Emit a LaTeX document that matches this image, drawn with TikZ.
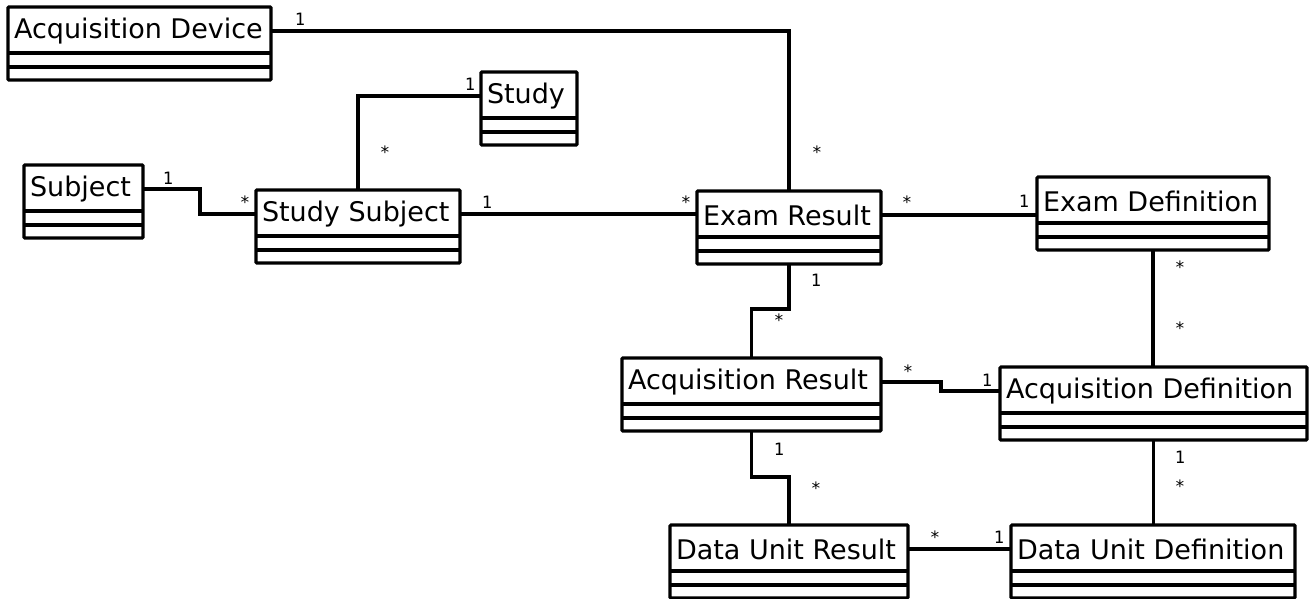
\documentclass[tikz,border=0pt]{standalone}
\usepackage{fontspec}
\setmainfont{DejaVu Sans}
\newfontfamily\labfont{DejaVu Sans Mono}
\usetikzlibrary{calc}
\tikzset{
  cbox/.style={draw, line width=3.2pt, inner sep=0pt, outer sep=0pt, anchor=north west, rounded corners=1pt},
  ctitle/.style={inner sep=0pt, outer sep=0pt, anchor=west, font=\fontsize{27}{30}\selectfont},
  cline/.style={line width=3.2pt},
  conn/.style={line width=3.2pt},
  mult/.style={inner sep=0pt, font=\labfont\fontsize{17}{19}\selectfont}
}
\newcommand\umlcls[5]{%
  \node[cbox, minimum width=#4pt, minimum height=73pt] (#1) at (#2,#3) {};
  \node[ctitle] (#1-t) at ($(#1.north west)+(6,24)$) {#5};
  \draw[cline] ($(#1.north west)+(0,46)$) -- ($(#1.north east)+(0,46)$);
  \draw[cline] ($(#1.north west)+(0,60)$) -- ($(#1.north east)+(0,60)$);
}
\begin{document}
\begin{tikzpicture}[x=1pt,y=-1pt]
\useasboundingbox[fill=white] (0,0) rectangle (1311,599);
\umlcls{ad}{8}{7}{263}{Acquisition Device}
\umlcls{study}{481}{72}{96}{Study}
\umlcls{subj}{24}{165}{119}{Subject}
\umlcls{ss}{256}{190}{204}{Study Subject}
\umlcls{er}{697}{191}{184}{Exam Result}
\umlcls{ed}{1037}{177}{232}{Exam Definition}
\umlcls{ar}{622}{358}{259}{Acquisition Result}
\umlcls{adf}{1000}{367}{307}{Acquisition Definition}
\umlcls{dur}{670}{525}{238}{Data Unit Result}
\umlcls{dud}{1011}{525}{284}{Data Unit Definition}
\coordinate (j3) at (200,0);
\coordinate (j6) at (0,309);
\coordinate (j8) at (941,0);
\coordinate (j9) at (0,477);
% connectors
\draw[conn] (ad.east |- ad-t.west) -| (er.north);
\draw[conn] (study.west |- study-t.west) -| (ss.north);
\draw[conn] (subj.east |- subj-t.west) -- (j3 |- subj-t.west) |- (ss.west |- ss-t.west);
\draw[conn] (ss.east |- ss-t.west) -- (er.west |- ss-t.west);
\draw[conn] (er.east |- er-t.west) -- (ed.west |- er-t.west);
\draw[conn] (er.south) -- (er.south |- j6) -| (ar.north);
\draw[conn] (ed.south) -- (ed.south |- adf.north);
\draw[conn] (ar.east |- ar-t.west) -- (j8 |- ar-t.west) |- (adf.west |- adf-t.west);
\draw[conn] (ar.south) -- (ar.south |- j9) -| (dur.north);
\draw[conn] (adf.south) -- (adf.south |- dud.north);
\draw[conn] (dur.east |- dur-t.west) -- (dud.west |- dur-t.west);
% multiplicities
\node[mult] (m1a) at (300,19) {1};
\node[mult] (m1b) at (817,152) {*};
\node[mult] (m2a) at (470,84) {1};
\node[mult] (m2b) at (385,152) {*};
\node[mult] (m3a) at (168,178) {1};
\node[mult] (m3b) at (245,202) {*};
\node[mult] (m4a) at (487,202) {1};
\node[mult] (m4b) at (686,202) {*};
\node[mult] (m5a) at (907,202) {*};
\node[mult] (m5b) at (1024,201) {1};
\node[mult] (m6a) at (816,280) {1};
\node[mult] (m6b) at (779,320) {*};
\node[mult] (m7a) at (1180,267) {*};
\node[mult] (m7b) at (1180,328) {*};
\node[mult] (m8a) at (908,371) {*};
\node[mult] (m8b) at (987,380) {1};
\node[mult] (m9a) at (779,449) {1};
\node[mult] (m9b) at (816,488) {*};
\node[mult] (m10a) at (1180,457) {1};
\node[mult] (m10b) at (1180,486) {*};
\node[mult] (m11a) at (935,537) {*};
\node[mult] (m11b) at (999,537) {1};
\end{tikzpicture}
\end{document}
